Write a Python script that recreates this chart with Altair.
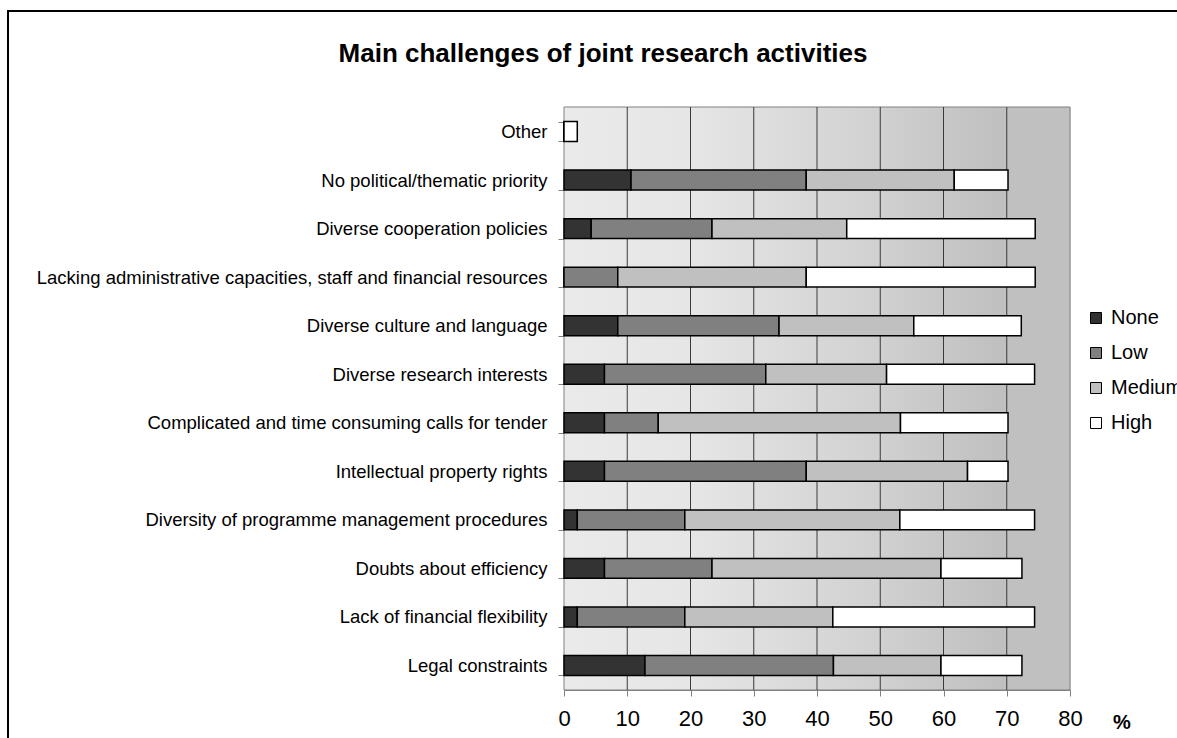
import altair as alt
import pandas as pd

categories = [
    "Other",
    "No political/thematic priority",
    "Diverse cooperation policies",
    "Lacking administrative capacities, staff and financial resources",
    "Diverse culture and language",
    "Diverse research interests",
    "Complicated and time consuming calls for tender",
    "Intellectual property rights",
    "Diversity of programme management procedures",
    "Doubts about efficiency",
    "Lack of financial flexibility",
    "Legal constraints",
]
none_vals = [0.0, 10.6, 4.3, 0.0, 8.5, 6.4, 6.4, 6.4, 2.1, 6.4, 2.1, 12.8]
low_vals = [0.0, 27.7, 19.1, 8.5, 25.5, 25.5, 8.5, 31.9, 17.0, 17.0, 17.0, 29.8]
medium_vals = [0.0, 23.4, 21.3, 29.8, 21.3, 19.1, 38.3, 25.5, 34.0, 36.2, 23.4, 17.0]
high_vals = [2.1, 8.5, 29.8, 36.2, 17.0, 23.4, 17.0, 6.4, 21.3, 12.8, 31.9, 12.8]
levels = ["None", "Low", "Medium", "High"]
level_colors = ["#333333", "#808080", "#C0C0C0", "#FFFFFF"]
x_ticks = [0, 10, 20, 30, 40, 50, 60, 70, 80]
grid_ticks = [10, 20, 30, 40, 50, 60, 70]
title_text = "Main challenges of joint research activities"

rows = []
for series, vals in zip(levels, [none_vals, low_vals, medium_vals, high_vals]):
    for cat, v in zip(categories, vals):
        rows.append({"Challenge": cat, "Level": series, "Value": v, "Order": levels.index(series)})
df = pd.DataFrame(rows)

W, H = 506, 583
FONT = "Liberation Sans"

background = alt.Chart(alt.Data(values=[{}])).mark_rect(
    color=alt.LinearGradient(
        gradient="linear",
        stops=[
            alt.GradientStop(color="#EAEAEA", offset=0),
            alt.GradientStop(color="#E6E6E6", offset=0.25),
            alt.GradientStop(color="#D2D2D2", offset=0.6),
            alt.GradientStop(color="#C0C0C0", offset=0.86),
            alt.GradientStop(color="#C0C0C0", offset=1),
        ],
        x1=0, x2=1, y1=0, y2=0,
    ),
    stroke="#808080",
    strokeWidth=1,
).encode(x=alt.value(0), x2=alt.value(W), y=alt.value(0), y2=alt.value(H))

grid = alt.Chart(pd.DataFrame({"g": grid_ticks})).mark_rule(
    color="#3A3A3A", strokeWidth=1
).encode(x=alt.X("g:Q", scale=alt.Scale(domain=[0, 80])))

frame = alt.Chart(alt.Data(values=[{}])).mark_rect(
    filled=False, stroke="black", strokeWidth=2
).encode(x=alt.value(-556), x2=alt.value(700), y=alt.value(-96), y2=alt.value(700))

pct = alt.Chart(alt.Data(values=[{}])).mark_text(
    text="%", font=FONT, fontSize=20, fontWeight="bold", align="left", baseline="middle"
).encode(x=alt.value(1113 - 564), y=alt.value(723 - 107))

title = alt.Chart(alt.Data(values=[{}])).mark_text(
    text=title_text, font=FONT, fontSize=26, fontWeight="bold", color="black",
    align="center", baseline="alphabetic"
).encode(x=alt.value(603 - 564), y=alt.value(62 - 107))

bars = alt.Chart(df).mark_bar(stroke="black", strokeWidth=1.5).encode(
    x=alt.X(
        "Value:Q",
        stack="zero",
        scale=alt.Scale(domain=[0, 80], nice=False),
        axis=alt.Axis(
            values=x_ticks, title=None, grid=False, labelFontSize=22, labelFont=FONT,
            labelColor="black", tickColor="#808080", domainColor="#808080",
            tickSize=6, labelPadding=12, labelFlush=False,
        ),
    ),
    y=alt.Y(
        "Challenge:N",
        sort=categories,
        scale=alt.Scale(paddingInner=0.59, paddingOuter=0.3),
        axis=alt.Axis(
            title=None, labelFontSize=18.5, labelFont=FONT, labelColor="black",
            tickBand="extent", tickColor="#808080", domainColor="#808080",
            tickSize=6, labelPadding=11, labelLimit=600,
        ),
    ),
    color=alt.Color(
        "Level:N",
        scale=alt.Scale(domain=levels, range=level_colors),
        legend=alt.Legend(
            title=None, orient="none", legendX=522, legendY=201,
            symbolType="square", symbolSize=121, symbolStrokeColor="black",
            symbolStrokeWidth=1, symbolOpacity=1, labelFontSize=20, labelFont=FONT,
            labelColor="black", rowPadding=15, padding=0, labelOffset=5,
        ),
    ),
    order=alt.Order("Order:Q"),
)

chart = alt.layer(background, grid, bars, frame, pct, title).properties(
    width=W,
    height=H,
    padding={"left": 564, "top": 107, "right": 107, "bottom": 48},
    autosize=alt.AutoSizeParams(type="none"),
).configure_view(stroke=None).configure(background="white")

chart.save("out.html", embed_options={"renderer": "svg", "actions": False})
